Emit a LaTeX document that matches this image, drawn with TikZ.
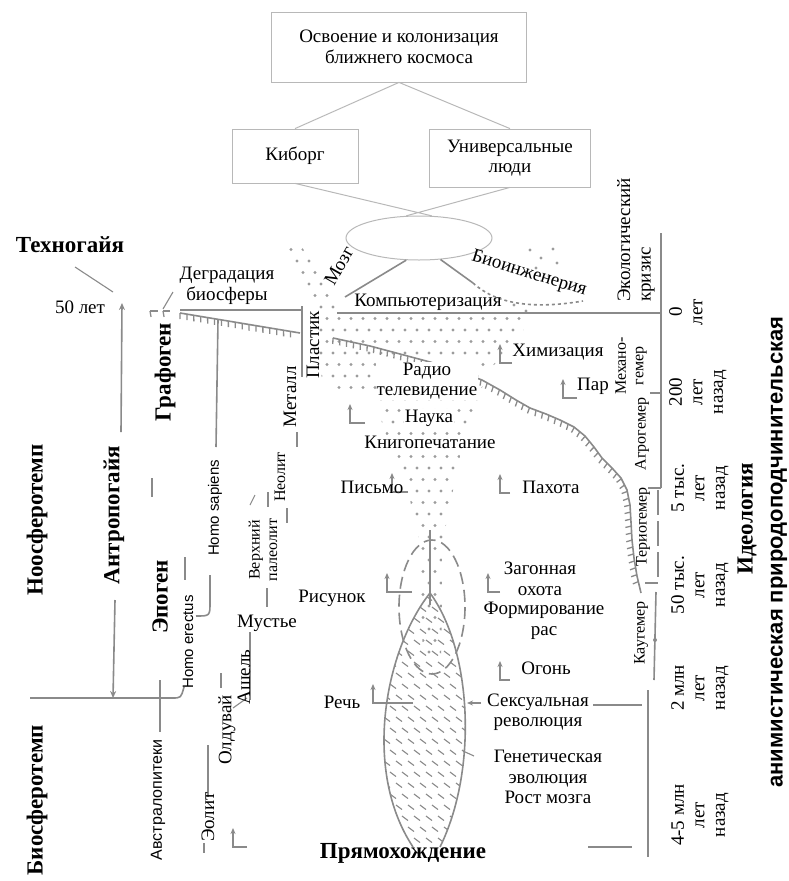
\documentclass[tikz,border=0pt]{standalone}
\usepackage{fontspec}
\setmainfont{Liberation Serif}
\setsansfont{Liberation Sans}
\usetikzlibrary{shapes.geometric, arrows.meta, decorations.pathreplacing}
\definecolor{lin}{HTML}{8A8A8A}
\definecolor{boxline}{HTML}{B8B8B8}
\definecolor{dotc}{HTML}{9C9C9C}

\begin{document}
\begin{tikzpicture}[x=1pt, y=-1pt,
  every node/.style={inner sep=1pt, align=center},
  txt/.style={font=\fontsize{19}{20.5}\selectfont},
  small/.style={font=\fontsize{16}{17.5}\selectfont},
  homo/.style={font=\sffamily\fontsize{15}{16}\selectfont},
  big/.style={font=\bfseries\fontsize{23}{25}\selectfont},
  plate/.style={draw=boxline, line width=0.8pt, txt},
  gline/.style={draw=lin, line width=1.6pt},
  thin/.style={draw=lin, line width=1.1pt},
  teeth/.style={gline, postaction={draw=lin, line width=1.3pt, decorate,
      decoration={border, segment length=7pt, amplitude=6pt, angle=-80}}},
  upar/.style={draw=lin, line width=1.4pt, -{Stealth[length=6pt, width=5pt]}}
]
  \useasboundingbox (0,0) rectangle (788,881);
  \def\larr#1#2#3{\draw[upar] (#1+#3,#2) -- (#1,#2) -- (#1,#2-19);}

  % upper scheme
  \node[plate, minimum width=255, minimum height=70] (space) at (399,47)
    {Освоение и колонизация\\ближнего космоса};
  \node[plate, minimum width=126, minimum height=54] (kib) at (295,156) {Киборг};
  \node[plate, minimum width=161, minimum height=58] (uni) at (510,158) {Универсальные\\люди};
  \node[draw=boxline, line width=1pt, ellipse, minimum width=146, minimum height=44] (ell) at (419,238) {};
  \draw[boxline, line width=1pt] (space.south) -- (kib.north) (space.south) -- (uni.north);
  \draw[boxline, line width=1pt] (kib.south) -- (ell.60) (uni.south) -- (ell.120);
  \draw[gline] (ell.240) -- (345,297);
  \draw[gline] (ell.315) -- (473,283);
  \draw[gline, dashed] (473,283) .. controls (495,303) and (530,310) .. (583,301);

  % dotted funnel
  \begin{scope}
    \clip (285,243) -- (297,240) -- (316,268) -- (333,296) -- (340,316) -- (528,316)
      -- (522,335) -- (505,352) -- (488,372) -- (478,398) -- (468,425) -- (458,465)
      -- (450,505) -- (443,540) -- (441,660) -- (423,660) -- (419,540) -- (410,500)
      -- (402,465) -- (385,432) -- (378,410) -- (370,392) -- (345,392) -- (322,380)
      -- (318,345) -- (318,318) -- (312,300) -- (300,272) -- cycle;
    \foreach \j in {0,...,37}{
      \foreach \i in {0,...,22}{
        \fill[dotc] ({285+12*\i+6*mod(\j,2)}, {238+11.5*\j}) circle (1.7pt);
      }
    }
  \end{scope}
  \foreach \p in {(530,250),(541,258),(553,249),(536,268),(549,276),(557,263),(514,305),(526,311)}
    \fill[dotc] \p circle (1.7pt);

  % lens
  \begin{scope}
    \clip (430,593) .. controls (385,650) and (362,770) .. (413,847) -- (440,847)
      .. controls (478,770) and (472,650) .. (430,593) -- cycle;
    \foreach \j in {0,...,24}{
      \foreach \i in {0,...,8}{
        \draw[lin, line width=1.1pt] ({378+12*\i+6*mod(\j,2)}, {596+11*\j}) -- ++(6,4.5);
      }
    }
  \end{scope}
  \draw[gline] (430,593) .. controls (385,650) and (362,770) .. (413,847);
  \draw[gline] (430,593) .. controls (472,650) and (478,770) .. (440,847);
  \draw[gline] (430,530) -- (430,605);
  \draw[gline, dashed, dash pattern=on 12pt off 6pt] (432,607) ellipse (33 and 67);

  % biosphere lines
  \draw[teeth] (150,311) -- (158,311);
  \draw[teeth] (163,311) -- (170,311);
  \draw[thin] (163,309) -- (173,292);
  \draw[gline] (180,310) -- (302,310);
  \draw[teeth] (180,313) -- (300,333);
  \draw[gline] (302,306) -- (302,377);
  \draw[gline] (337,313) -- (661,313);
  \draw[teeth] (333,338) -- (370,346) -- (400,354) -- (430,362) -- (460,372) -- (482,380)
    -- (500,390) -- (516,400) -- (530,408) -- (546,414) -- (560,420) -- (574,427)
    -- (585,436) -- (594,447) -- (602,458) -- (612,468) -- (621,478) -- (627,490)
    -- (630,505) -- (631,522) -- (632,540) -- (634,558) -- (637,576) -- (641,593);

  % right axis
  \draw[gline] (661,233) -- (661,488);
  \draw[gline] (650,393) -- (661,393);
  \draw[gline] (648,488) -- (661,488);
  \draw[gline, dash pattern=on 25pt off 6pt] (658,490) -- (658,578);
  \draw[gline] (645,583) -- (658,583);
  \draw[gline] (656,592) -- (654,680);
  \fill[lin] (655,640) circle (2pt);
  \draw[gline] (648,690) -- (648,857);
  \draw[gline] (593,705) -- (642,705);
  \draw[gline] (588,847) -- (632,847);

  % left lines
  \draw[thin] (75,267) -- (113,292);
  \draw[gline, -{Stealth[length=7pt, width=6pt]}] (121,432) -- (122,303);
  \draw[gline, -{Stealth[length=7pt, width=6pt]}] (115,600) -- (113,698);
  \draw[gline] (30,698) -- (172,698) .. controls (181,698) .. (184,687);
  \draw[gline] (160,680) -- (160,732);
  \draw[gline] (196,616) .. controls (210,616) .. (210,602) -- (210,575);
  \draw[gline] (216,447) -- (218,320);
  \draw[gline] (250,632) -- (250,700);
  \draw[thin] (233,708) -- (247,698);
  \foreach \a/\b/\c in {152/478/497, 185/557/580, 267/588/607, 268/492/507,
      287/508/523, 297/432/447, 221/673/688, 204/843/853}
    \draw[thin] (\a,\b) -- (\a,\c);
  \draw[thin] (208,745) -- (208,797);
  \draw[thin] (250,505) -- (255,495);

  % small arrows
  \larr{500}{363}{12}
  \larr{563}{398}{14}
  \larr{350}{423}{15}
  \larr{392}{492}{16}
  \larr{500}{493}{10}
  \larr{488}{592}{12}
  \larr{387}{592}{25}
  \larr{500}{680}{10}
  \larr{373}{703}{40}
  \larr{233}{847}{14}
  \draw[upar] (481,703) -- (467,703);
  \draw[thin] (474,756) -- (463,751);

  % labels
  \node[big] (tg) at (70,245) {Техногайя};
  \node[txt] (y50) at (80,307) {50 лет};
  \node[big, rotate=90] (noo) at (37,520) {Ноосферотемп};
  \node[big, rotate=90] (bio) at (37,800) {Биосферотемп};
  \node[big, rotate=90] (antr) at (114,515) {Антропогайя};
  \node[big, rotate=90] (graf) at (165,372) {Графоген};
  \node[big, rotate=90] (epo) at (160,597) {Эпоген};
  \node[homo, rotate=90] (herec) at (188,642) {Homo erectus};
  \node[homo, rotate=90] (hsap) at (215,508) {Homo sapiens};
  \node[homo, rotate=90, font=\sffamily\fontsize{16}{17}\selectfont] (austr) at (158,800) {Австралопитеки};
  \node[txt] (degr) at (227,286) {Деградация\\биосферы};
  \node[txt, rotate=90] (plast) at (313,345) {Пластик};
  \node[txt, rotate=90] (metal) at (290,397) {Металл};
  \node[small, rotate=90] (neol) at (280,477) {Неолит};
  \node[small, rotate=90] (upal) at (263,550) {Верхний\\палеолит};
  \node[txt] (must) at (267,623) {Мустье};
  \node[txt, rotate=90] (ash) at (244,677) {Ашель};
  \node[txt, rotate=90] (old) at (227,730) {Олдувай};
  \node[txt, rotate=90] (eol) at (208,817) {Эолит};
  \node[txt] (ris) at (332,598) {Рисунок};
  \node[txt] (rech) at (342,702) {Речь};
  \node[big] (pryam) at (403,853) {Прямохождение};
  \node[txt, rotate=60] (mozg) at (339,266) {Мозг};
  \node[txt] (comp) at (428,302) {Компьютеризация};
  \node[txt, rotate=-17] (bioing) at (529,274) {Биоинженерия};
  \node[txt, fill=white, inner sep=0.5pt] (radio) at (427,381) {Радио\\телевидение};
  \node[txt, fill=white, inner sep=0.5pt] (nauka) at (429,418) {Наука};
  \node[txt, fill=white, inner sep=0.5pt] (knig) at (430,442) {Книгопечатание};
  \node[txt] (pism) at (372,487) {Письмо};
  \node[txt] (chim) at (558,352) {Химизация};
  \node[txt] (par) at (593,386) {Пар};
  \node[txt] (pah) at (551,487) {Пахота};
  \node[txt] (zag) at (540,579) {Загонная\\охота};
  \node[txt] (form) at (544,621) {Формирование\\рас};
  \node[txt] (ogon) at (546,668) {Огонь};
  \node[txt] (sex) at (538,712) {Сексуальная\\революция};
  \node[txt] (gen) at (548,777) {Генетическая\\эволюция\\Рост мозга};

  % time scale
  \node[txt, rotate=90, align=left] (eco) at (636,240) {Экологический\\кризис};
  \node[txt, rotate=90] (t0) at (686,312) {0\\лет};
  \node[txt, rotate=90] (t200) at (698,392) {200\\лет\\назад};
  \node[txt, rotate=90] (t5k) at (700,488) {5 тыс.\\лет\\назад};
  \node[txt, rotate=90] (t50k) at (700,585) {50 тыс.\\лет\\назад};
  \node[txt, rotate=90] (t2m) at (700,688) {2 млн\\лет\\назад};
  \node[txt, rotate=90] (t45m) at (700,815) {4-5 млн\\лет\\назад};
  \node[small, rotate=90] (mech) at (631,366) {Механо-\\гемер};
  \node[small, rotate=90] (agro) at (642,434) {Агрогемер};
  \node[small, rotate=90] (ter) at (643,527) {Териогемер};
  \node[small, rotate=90] (kau) at (641,633) {Каугемер};
  \node[big, rotate=90] (ideo) at (747,519) {Идеология};
  \node[rotate=90, font=\sffamily\bfseries\fontsize{22}{24}\selectfont] (anim) at (779,552)
    {анимистическая природоподчинительская};
\end{tikzpicture}
\end{document}
